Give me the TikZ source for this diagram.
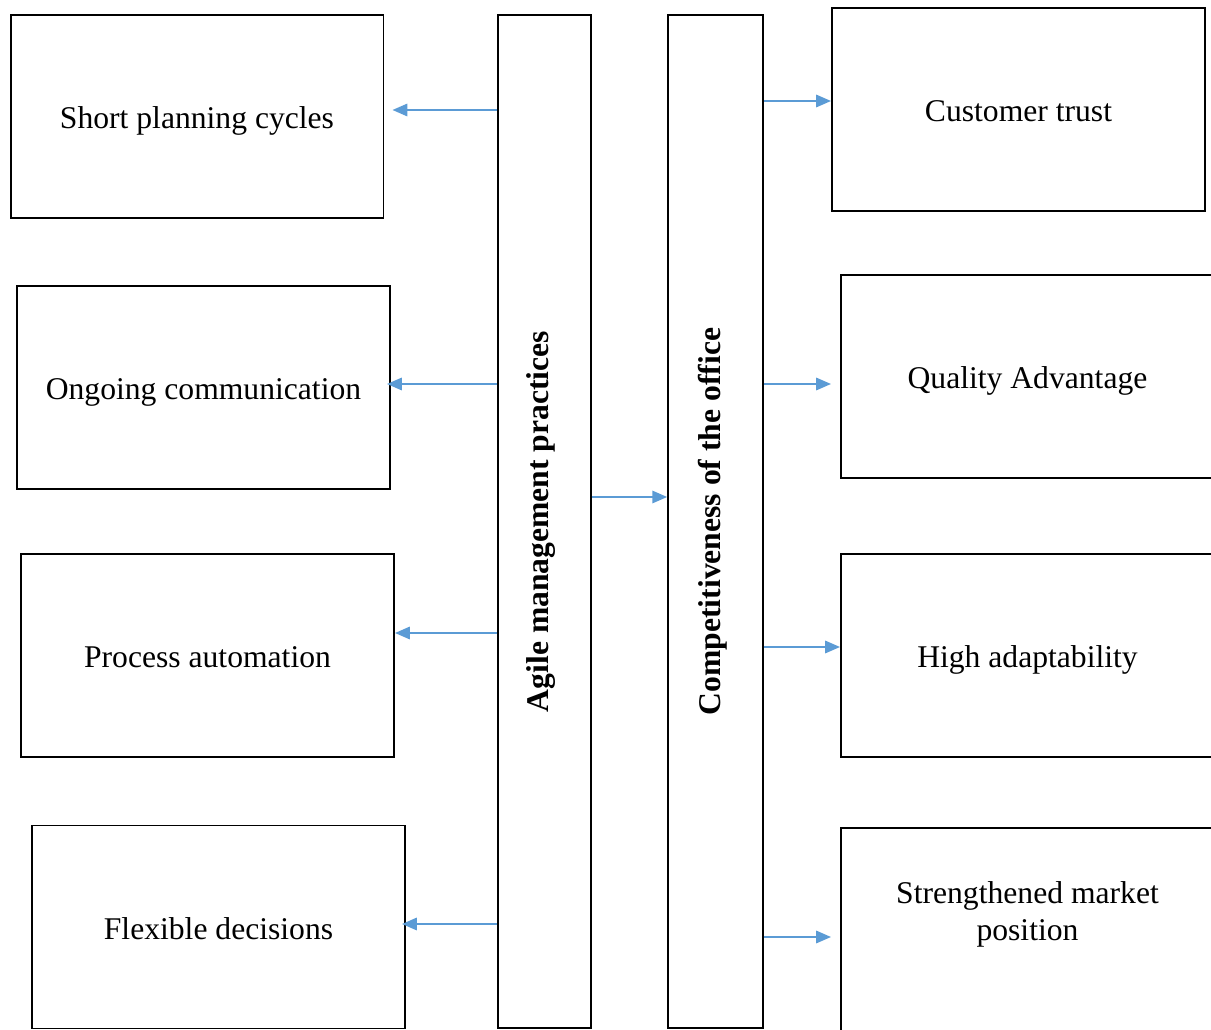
\documentclass[tikz,border=0pt]{standalone}
\usepackage{fontspec}
\setmainfont{Liberation Serif}
\usetikzlibrary{positioning}
\usetikzlibrary{arrows.meta}
\definecolor{arrowblue}{RGB}{91,155,213}

\begin{document}
\begin{tikzpicture}[x=0.02cm, y=-0.02cm,
  box/.style={draw, line width=1.1pt, minimum width=7.46cm, minimum height=4.06cm,
    inner sep=0pt, align=center, font=\fontsize{18}{21}\selectfont},
  oneline/.style={box, text height=18pt, text depth=4pt},
  bar/.style={draw, line width=0.9pt, minimum height=20.26cm, inner sep=0pt},
  bartext/.style={xshift=-0.06cm, rotate=90, font=\fontsize{18}{21}\selectfont\bfseries},
  link/.style={arrowblue, line width=1.3pt, -{Triangle[length=8.5pt, width=7pt]}}]

\path[use as bounding box, clip] (0,0) rectangle (1211,1030);

% middle bars
\node[bar, minimum width=1.86cm] (agile) at (544.5,521.5)
  [label={[bartext]center:Agile management practices}] {};
\node[bar, minimum width=1.9cm] (compet) at (715.5,521.5)
  [label={[bartext]center:Competitiveness of the office}] {};

% left boxes
\node[oneline] (short) at (197,116.5) {Short planning cycles};
\node[oneline] (comm) at (203.5,387.5) {Ongoing communication};
\node[oneline] (auto) at (207.5,655.5) {Process automation};
\node[oneline] (flex) at (218.5,927) {Flexible decisions};

% right boxes
\node[oneline] (trust) at (1018.5,109.5) {Customer trust};
\node[oneline] (quality) at (1027.5,376.5) {Quality Advantage};
\node[oneline] (adapt) at (1027.5,655.5) {High adaptability};
\node[box] (market) at (1027.5,929.5) {Strengthened market\\position\\};

% arrows
\draw[link] (agile.west |- 0,110) -- ([xshift=0.16cm]short.east |- 0,110);
\draw[link] (agile.west |- 0,384) -- ([xshift=-0.08cm]comm.east |- 0,384);
\draw[link] (agile.west |- 0,633) -- (auto.east |- 0,633);
\draw[link] (agile.west |- 0,924) -- ([xshift=-0.08cm]flex.east |- 0,924);

\draw[link] (agile.east |- 0,497) -- (compet.west |- 0,497);

\draw[link] (compet.east |- 0,101) -- (trust.west |- 0,101);
\draw[link] (compet.east |- 0,384) -- ([xshift=-0.18cm]quality.west |- 0,384);
\draw[link] (compet.east |- 0,647) -- (adapt.west |- 0,647);
\draw[link] (compet.east |- 0,937) -- ([xshift=-0.18cm]market.west |- 0,937);

\end{tikzpicture}
\end{document}
